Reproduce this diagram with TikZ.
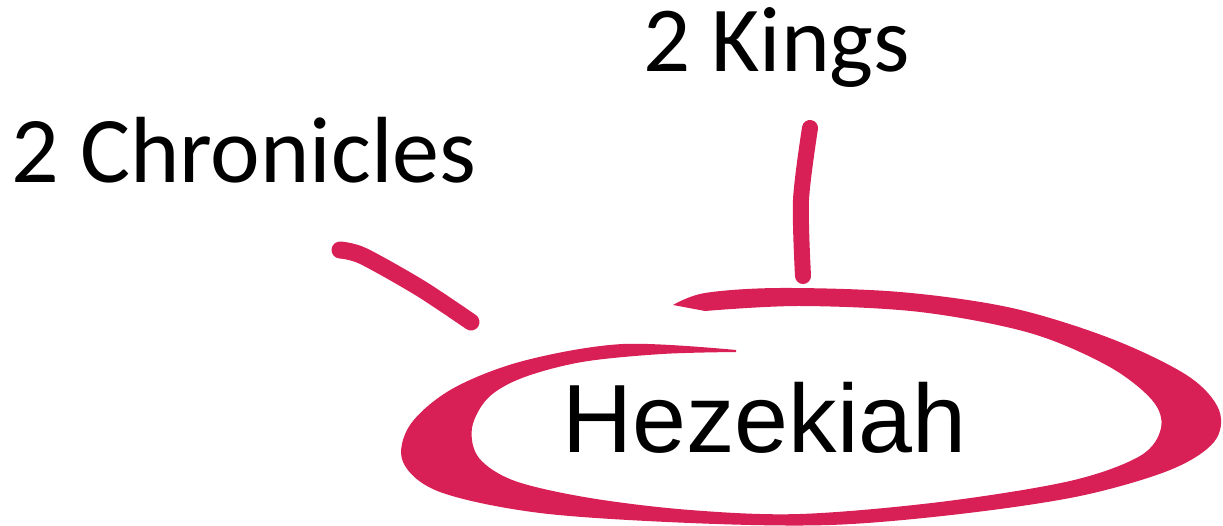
\documentclass[tikz,border=0pt]{standalone}
\usepackage{fontspec}
\setmainfont{Carlito}
\newfontfamily\arialfont{Liberation Sans}
\definecolor{marker}{RGB}{216,32,86}
\begin{document}
\begin{tikzpicture}[x=1pt,y=-1pt,
  label/.style={anchor=base west,inner sep=0pt,text=black},
  markerline/.style={draw=marker,line cap=round,line join=round}]
\useasboundingbox (0,0) rectangle (1223,526);
% ring (spiral band)
\fill[marker] plot[smooth,tension=0.55] coordinates {
  (736,350) (623,344) (523,361) (452,389) (410,425) (403,462) (440,492)
  (540,513) (690,523) (830,525) (960,514) (1080,496) (1170,470)
  (1214,442) (1219,410) (1188,376) (1112,339) (1012,308) (900,292)
  (780,288) (705,293) (673,305)}
  -- plot[smooth,tension=0.55] coordinates {
  (705,311) (800,306) (920,312) (1030,333) (1108,366) (1152,400)
  (1161,428) (1140,456) (1070,481) (940,502) (800,514) (690,510)
  (590,498) (515,481) (479,458) (472,428) (488,398) (522,378)
  (582,362) (662,354) (736,352)}
  -- cycle;
% strokes toward the book names
\coordinate (c1) at (340,250);
\coordinate (c2) at (363,256);
\coordinate (c3) at (420,288);
\coordinate (c4) at (471,322);
\draw[markerline,line width=17pt] plot[smooth] coordinates {(c1) (c2) (c3) (c4)};
\coordinate (k1) at (810,128);
\coordinate (k2) at (801,200);
\coordinate (k3) at (803,276);
\draw[markerline,line width=16pt] plot[smooth] coordinates {(k1) (k2) (k3)};
% texts
\node[label,font=\fontsize{93}{110}\selectfont] (kings) at (643,72) {2 Kings};
\node[label,font=\fontsize{94}{110}\selectfont] (chron) at (11,183) {2 Chronicles};
\node[label,font=\arialfont\fontsize{97}{115}\selectfont] (hez) at (562,452) {Hezekiah};
\end{tikzpicture}
\end{document}
